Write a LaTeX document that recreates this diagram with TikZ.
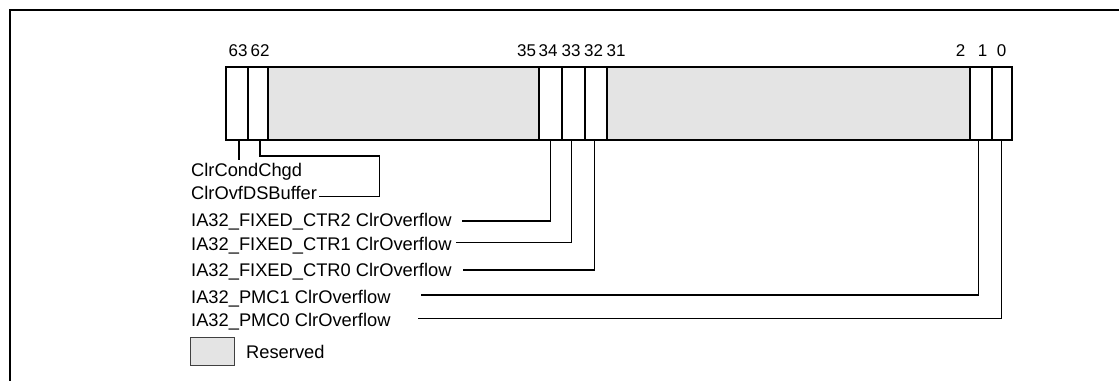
\documentclass[tikz,border=0pt]{standalone}
\usepackage{fontspec}
\setmainfont{Liberation Sans}
\definecolor{resgray}{RGB}{228,228,228}
\begin{document}
\begin{tikzpicture}[x=1bp,y=-1bp,
  lbl/.style={anchor=base west,inner sep=0pt,font=\fontsize{18.3bp}{20bp}\selectfont},
  num/.style={anchor=base,inner sep=0pt,font=\fontsize{17bp}{20bp}\selectfont},
  frameline/.style={line width=2bp},
  regbox/.style={line width=2.5bp},
  divider/.style={line width=1.4bp},
  conn/.style={line width=1.3bp},
  legbox/.style={draw=black!75,fill=resgray,line width=0.9bp,minimum width=43.6bp,minimum height=27.7bp,inner sep=0pt}]
\useasboundingbox (0,0) rectangle (1119,381);
\fill[white] (0,0) rectangle (1119,381);
\draw[frameline] (1119,9.7) -- (9.7,9.7) -- (9.7,381);
% reserved fields
\fill[resgray] (268,67) rectangle (539,140);
\fill[resgray] (607,67) rectangle (970,140);
% dividers
\foreach \xx in {248,268,539,562,585,607,970,992}
  \draw[divider] (\xx,67) -- (\xx,140);
\draw[regbox] (226,67) rectangle (1012,140);
% bit numbers
\node[num] (n63) at (238,56.7) {63};
\node[num] (n62) at (260,56.7) {62};
\node[num] (n35) at (526.5,56.7) {35};
\node[num] (n34) at (548,56.7) {34};
\node[num] (n33) at (571,56.7) {33};
\node[num] (n32) at (593.5,56.7) {32};
\node[num] (n31) at (616,56.7) {31};
\node[num] (n2) at (960.5,56.7) {2};
\node[num] (n1) at (982.5,56.7) {1};
\node[num] (n0) at (1001.5,56.7) {0};
% labels
\node[lbl] (l63) at (191,176.7) {ClrCondChgd};
\node[lbl] (l62) at (191,199) {ClrOvfDSBuffer};
\node[lbl] (l34) at (191,226.7) {IA32\_FIXED\_CTR2 ClrOverflow};
\node[lbl] (l33) at (191,250) {IA32\_FIXED\_CTR1 ClrOverflow};
\node[lbl] (l32) at (191,276.7) {IA32\_FIXED\_CTR0 ClrOverflow};
\node[lbl] (l1) at (191,303.3) {IA32\_PMC1 ClrOverflow};
\node[lbl] (l0) at (191,326.7) {IA32\_PMC0 ClrOverflow};
% connector points
\coordinate (b63) at (239,140);
\coordinate (e63) at (239,159.5);
\coordinate (b62) at (260,140);
\coordinate (k62) at (379.3,156);
\coordinate (e62) at (319,196.7);
\coordinate (b34) at (550.7,140);
\coordinate (e34) at (461.7,221);
\coordinate (b33) at (571.7,140);
\coordinate (e33) at (456,242.7);
\coordinate (b32) at (594.3,140);
\coordinate (e32) at (463.3,270);
\coordinate (b1) at (978.7,140);
\coordinate (e1) at (420.7,295);
\coordinate (b0) at (1001.3,140);
\coordinate (e0) at (418.3,318.7);
\draw[conn] (b63) -- (e63);
\draw[conn] (b62) |- (k62) |- (e62);
\draw[conn] (b34) |- (e34);
\draw[conn] (b33) |- (e33);
\draw[conn] (b32) |- (e32);
\draw[conn] (b1) |- (e1);
\draw[conn] (b0) |- (e0);
% legend
\node[legbox] (leg) at (212.5,351.2) {};
\node[lbl] (legtxt) at (246,358.3) {Reserved};
\end{tikzpicture}
\end{document}
